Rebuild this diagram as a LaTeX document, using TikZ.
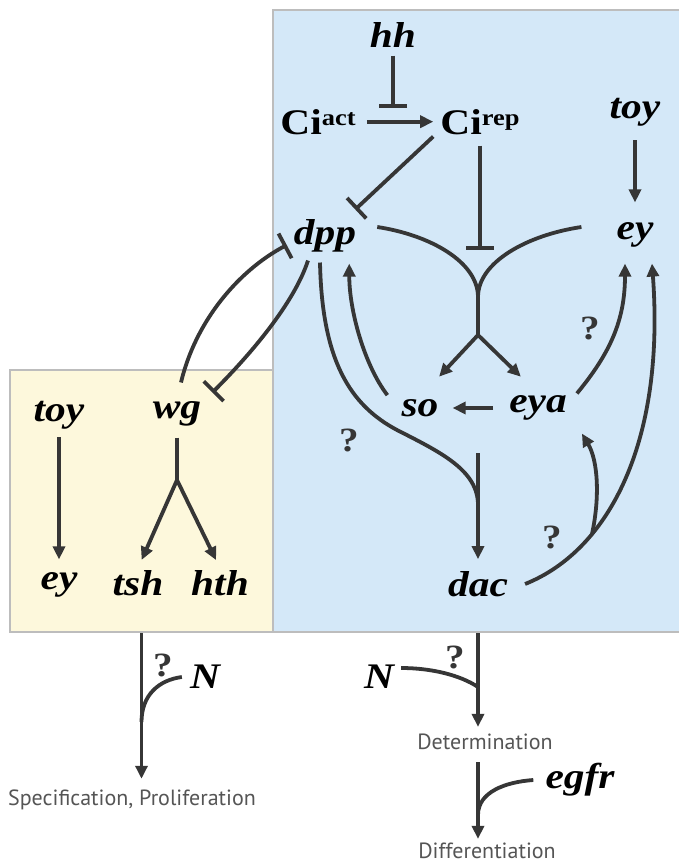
\documentclass[tikz,border=0pt]{standalone}
\usepackage{fontspec}
\setmainfont{Liberation Serif}
\newfontfamily\labelfamily[FakeStretch=1.15]{Liberation Serif}
\newfontfamily\stagefamily{PT Sans}
\usetikzlibrary{arrows.meta}
\definecolor{FieldBlue}{HTML}{D4E8F8}
\definecolor{FieldYellow}{HTML}{FDF8DC}
\definecolor{FrameGray}{HTML}{BDBDBD}
\definecolor{LineGray}{HTML}{363636}
\definecolor{StageGray}{HTML}{555555}
\newcommand{\genefont}{\labelfamily\fontsize{36}{40}\selectfont\bfseries\itshape}
\newcommand{\cifont}{\labelfamily\fontsize{36}{40}\selectfont\bfseries}
\newcommand{\qfont}{\labelfamily\fontsize{34}{38}\selectfont\bfseries}
\newcommand{\stagefont}{\stagefamily\fontsize{22}{24}\selectfont}
\tikzset{
  field/.style={draw=FrameGray, line width=2pt, inner sep=0pt},
  gene/.style={font=\genefont, inner sep=2pt},
  ci/.style={font=\cifont, inner sep=2pt},
  qmark/.style={font=\qfont, text=LineGray, inner sep=0pt},
  stage/.style={font=\stagefont, text=StageGray, inner sep=2pt},
  link/.style={line width=3.8pt, draw=LineGray},
  act/.style={link, -{Triangle[length=13pt,width=12pt]}},
  inh/.style={link, -{Bar[width=28pt]}},
}

\begin{document}
\begin{tikzpicture}[x=1pt, y=-1pt]
  \useasboundingbox (0,0) rectangle (679,867);
  % fields
  \node[field, fill=FieldBlue, minimum width=410pt, minimum height=622pt] (eyefield) at (478,321) {};
  \node[field, fill=FieldYellow, minimum width=263pt, minimum height=262pt] (antfield) at (141.5,501) {};

  % eye field
  \node[gene] (hh) at (393,35) {hh};
  \node[ci, anchor=base] (ciact) at (318,134) {Ci\raisebox{9pt}{\fontsize{23}{25}\selectfont act}};
  \node[ci, anchor=base] (cirep) at (480,134) {Ci\raisebox{9pt}{\fontsize{23}{25}\selectfont rep}};
  \node[gene] (toyR) at (635,112) {toy};
  \node[gene] (eyR) at (635,235) {ey};
  \node[gene] (dpp) at (325,236) {dpp};
  \node[gene] (so) at (420,408) {so};
  \node[gene] (eya) at (538,408) {eya};
  \node[gene] (dac) at (478,584) {dac};

  % antenna field
  \node[gene] (toyL) at (59,415) {toy};
  \node[gene] (wg) at (177,414) {wg};
  \node[gene] (eyL) at (59,585) {ey};
  \node[gene] (tsh) at (138,583) {tsh};
  \node[gene] (hth) at (220,583) {hth};

  % outputs
  \node[gene] (N1) at (205,677) {N};
  \node[gene] (N2) at (379,677) {N};
  \node[gene] (egfr) at (580,780) {egfr};
  \node[stage] (spec) at (132,800) {Specification, Proliferation};
  \node[stage] (determ) at (485,742) {Determination};
  \node[stage] (differ) at (487,851) {Differentiation};

  \node[qmark] (q1) at (349,440) {?};
  \node[qmark] (q2) at (590,328) {?};
  \node[qmark] (q3) at (552,537) {?};
  \node[qmark] (q4) at (163,665) {?};
  \node[qmark] (q5) at (455,657) {?};

  % hh / Ci
  \coordinate (hhbar) at (393,108);
  \draw[inh, shorten <=6pt] (hh.south) -- (hhbar);
  \draw[act, shorten <=9pt, shorten >=5pt] (ciact.east) -- (cirep.west);
  \draw[inh] ([xshift=-5pt]cirep.south west) -- ([xshift=-3pt, yshift=8pt]dpp.north east);
  \coordinate (repbar) at (480,250);
  \draw[inh, shorten <=9pt] (cirep.south) -- (repbar);

  % dpp and ey converge on so / eya
  \coordinate (fuse) at (478,297);
  \coordinate (fork) at (478,335);
  \draw[link] ([xshift=19pt, yshift=9pt]dpp.east) .. controls +(53,8) and +(0,-35) .. (fuse);
  \draw[link] ([xshift=-33pt, yshift=8pt]eyR.west) .. controls +(-54,8) and +(0,-35) .. (fuse);
  \draw[link] (fuse) -- (fork);
  \draw[act, shorten >=28pt] (fork) -- (so.north);
  \draw[act, shorten >=24pt] (fork) -- (eya.north);
  \draw[act, shorten <=14pt, shorten >=12pt] (eya.west) -- (so.east);

  % feedback onto dpp
  \draw[act] ([xshift=-12pt, yshift=2pt]so.north west) .. controls +(-23,-30) and +(0,47) .. ([xshift=-9pt, yshift=-9pt]dpp.south east);

  % towards dac
  \coordinate (dacfuse) at (478,505);
  \draw[link] ([xshift=-5pt, yshift=-8pt]dpp.south) .. controls +(2,98) and +(-47,-25) .. (397,430)
    .. controls +(43,22) and +(0,-35) .. (dacfuse);
  \coordinate (soeya) at (478,453);
  \draw[act, shorten >=10pt] (soeya) -- (dac.north);

  % eya and dac back to ey
  \draw[act] ([xshift=8pt]eya.north east) .. controls +(33,-40) and +(0,57) .. ([xshift=-10pt, yshift=-14pt]eyR.south);
  \draw[act] ([xshift=15pt]dac.east) .. controls +(85,-34) and +(13,177) .. ([xshift=17pt, yshift=-14pt]eyR.south);
  \coordinate (dacsplit) at (592,534);
  \draw[act] (dacsplit) .. controls +(8,-37) and +(16,27) .. ([xshift=13pt, yshift=-11pt]eya.south east);
  \draw[act, shorten <=12pt, shorten >=18pt] (toyR.south) -- (eyR.north);

  % antenna field links
  \draw[act, shorten <=6pt, shorten >=11pt] (toyL.south) -- (eyL.north);
  \coordinate (wgfork) at (177,480);
  \draw[link, shorten <=9pt] (wg.south) -- (wgfork);
  \draw[act, shorten >=9pt] (wgfork) -- (tsh.north);
  \draw[act, shorten >=9pt] (wgfork) -- (hth.north);

  % wg / dpp cross-repression
  \draw[inh] ([xshift=4pt, yshift=17pt]wg.north) .. controls +(15,-63) and +(-47,25) .. ([xshift=-5pt, yshift=-9pt]dpp.west);
  \draw[inh] ([xshift=-17pt, yshift=-6pt]dpp.south) .. controls +(-13,40) and +(43,-43) .. ([xshift=9pt, yshift=7pt]wg.north east);

  % outputs
  \draw[act, shorten >=9pt] (antfield.south) -- (antfield.south |- spec.north);
  \coordinate (spjoin) at (141.5,722);
  \draw[link] ([xshift=-6pt]N1.west) .. controls +(-23,3) and +(0,-27) .. (spjoin);
  \draw[act, shorten >=5pt] (eyefield.south) -- (eyefield.south |- determ.north);
  \coordinate (dtjoin) at (478,687);
  \draw[link] ([xshift=5pt, yshift=9pt]N2.east) .. controls +(30,0) and +(-18,-12) .. (dtjoin);
  \draw[act, shorten <=10pt, shorten >=2pt] (eyefield.south |- determ.south) -- (eyefield.south |- differ.north);
  \coordinate (dfjoin) at (478,815);
  \draw[link] ([xshift=-10pt]egfr.west) .. controls +(-28,2) and +(0,-23) .. (dfjoin);
\end{tikzpicture}
\end{document}
